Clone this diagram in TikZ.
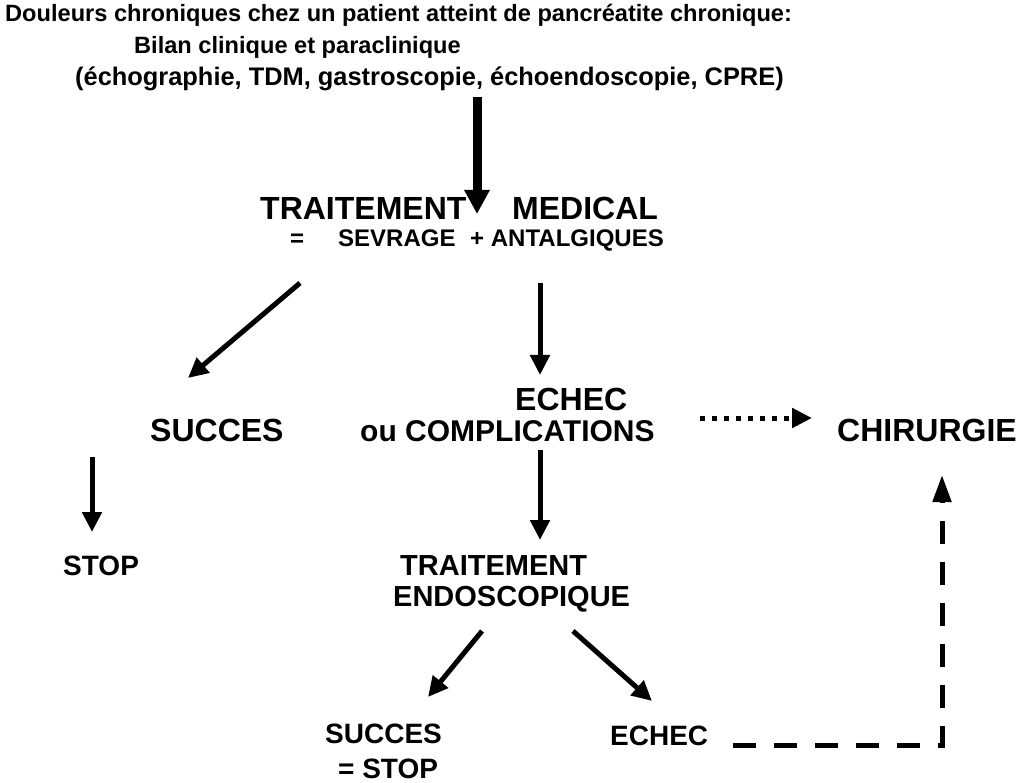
\documentclass[tikz,border=0pt]{standalone}
\usepackage{fontspec}
\setmainfont{Liberation Sans}
\usetikzlibrary{arrows.meta}
\begin{document}
\begin{tikzpicture}[x=1pt,y=-1pt,
  lbl/.style={font=\bfseries\fontsize{#1}{#1}\selectfont, inner sep=0pt, align=center},
  lbl/.default=32,
  thickarrow/.style={line width=5pt, -{Triangle[length=20pt,width=19pt]}},
  bigarrow/.style={line width=9pt, -{Triangle[length=24pt,width=24pt]}},
  dotarrow/.style={line width=5pt, dash pattern=on 5pt off 7pt, -{Triangle[length=20pt,width=19pt]}},
  dasharrow/.style={line width=5pt, dash pattern=on 23pt off 18pt, -{Triangle[length=27pt,width=18pt]}}]
\useasboundingbox (0,0) rectangle (1017,783);

% heading
\node[lbl=23.6, anchor=base west] (t1) at (5,22) {Douleurs chroniques chez un patient atteint de pancréatite chronique:};
\node[lbl=23.6, anchor=base west] (t2) at (134,54) {Bilan clinique et paraclinique};
\node[lbl=25.4, anchor=base west] (t3) at (75,86) {(échographie, TDM, gastroscopie, échoendoscopie, CPRE)};

% medical treatment
\node[lbl=32, anchor=base west] (tm1) at (260,220) {TRAITEMENT};
\node[lbl=32, anchor=base west] (tm2) at (512,220) {MEDICAL};
\node[lbl=24, anchor=base west] (eq) at (290,247) {=};
\node[lbl=24, anchor=base west] (sev) at (338,247) {SEVRAGE};
\node[lbl=24, anchor=base west] (ant) at (470,247) {+ ANTALGIQUES};

% second level
\node[lbl=32, anchor=base west] (succ) at (150,441) {SUCCES};
\node[lbl=32, anchor=base west] (ech) at (515,410) {ECHEC};
\node[lbl=30, anchor=base west] (comp) at (360,441) {ou COMPLICATIONS};
\node[lbl=32, anchor=base west] (chir) at (837,441) {CHIRURGIE};
\node[lbl=28, anchor=base west] (stop) at (63,575) {STOP};

% endoscopic treatment
\node[lbl=29, anchor=base west] (te1) at (400,575) {TRAITEMENT};
\node[lbl=29, anchor=base west] (te2) at (393,606) {ENDOSCOPIQUE};
\node[lbl=28, anchor=base west] (s2a) at (325,743) {SUCCES};
\node[lbl=28, anchor=base west] (s2b) at (338,778) {= STOP};
\node[lbl=28, anchor=base west] (e2) at (610,745) {ECHEC};

% arrow end points
\coordinate (a0s) at (477,97);   \coordinate (a0e) at (477,214);
\coordinate (a1s) at (300,283);  \coordinate (a1e) at (188,378);
\coordinate (a2s) at (540,283);  \coordinate (a2e) at (540,375);
\coordinate (a3s) at (92,457);   \coordinate (a3e) at (92,532);
\coordinate (a4s) at (540,450);  \coordinate (a4e) at (540,540);
\coordinate (a5s) at (700,418);  \coordinate (a5e) at (812,418);
\coordinate (a6s) at (482,631);  \coordinate (a6e) at (428,697);
\coordinate (a7s) at (573,631);  \coordinate (a7e) at (652,701);
\coordinate (a8s) at (733,745);  \coordinate (a8c) at (942,745); \coordinate (a8e) at (942,475);

\draw[bigarrow] (a0s) -- (a0e);
\draw[thickarrow] (a1s) -- (a1e);
\draw[thickarrow] (a2s) -- (a2e);
\draw[thickarrow] (a3s) -- (a3e);
\draw[thickarrow] (a4s) -- (a4e);
\draw[dotarrow] (a5s) -- (a5e);
\draw[thickarrow] (a6s) -- (a6e);
\draw[thickarrow] (a7s) -- (a7e);
\draw[dasharrow] (a8s) -- (a8c) -- (a8e);
\end{tikzpicture}
\end{document}
